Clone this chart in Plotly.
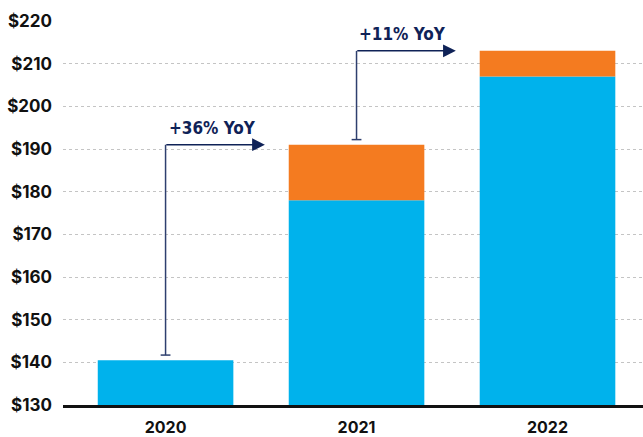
import plotly.graph_objects as go

years = ["2020", "2021", "2022"]
base_values = [140.5, 178, 207]
top_values = [0, 13, 6]
yoy_labels = ["+36% YoY", "+11% YoY"]
y_ticks = [130, 140, 150, 160, 170, 180, 190, 200, 210, 220]
y_tick_text = ["$" + str(v) for v in y_ticks]

BLUE = "#00B2EC"
ORANGE = "#F47B20"
NAVY = "#0F2257"

x_idx = list(range(len(years)))
totals = [b + t for b, t in zip(base_values, top_values)]

fig = go.Figure()
fig.add_trace(go.Bar(x=x_idx, y=base_values, base=0, marker_color=BLUE, marker_line_width=0,
                     showlegend=False, hoverinfo="skip"))
fig.add_trace(go.Bar(x=x_idx, y=top_values, base=base_values, marker_color=ORANGE, marker_line_width=0,
                     showlegend=False, hoverinfo="skip"))

for i, label in enumerate(yoy_labels):
    y0 = totals[i] + 1.2
    y1 = totals[i + 1]
    fig.add_trace(go.Scatter(x=[i, i], y=[y0, y1], mode="lines",
                             line=dict(color="#2E3F6E", width=1.5), showlegend=False, hoverinfo="skip"))
    fig.add_trace(go.Scatter(x=[i], y=[y0], mode="markers",
                             marker=dict(symbol="line-ew", size=7, line=dict(color="#2E3F6E", width=1.5)),
                             showlegend=False, hoverinfo="skip"))
    fig.add_annotation(x=i + 0.52, y=y1, ax=i - 0.004, ay=y1, xref="x", yref="y", axref="x", ayref="y",
                       showarrow=True, arrowhead=2, arrowsize=1.7, arrowwidth=1.5, arrowcolor=NAVY, text="")
    fig.add_annotation(x=i + 0.005, y=y1, xref="x", yref="y", text="<b>" + label + "</b>", showarrow=False,
                       xanchor="left", yanchor="bottom", yshift=5,
                       font=dict(family="DejaVu Sans Condensed, Liberation Sans Narrow, sans-serif",
                                 size=17, color=NAVY))

fig.update_layout(
    width=643, height=437,
    margin=dict(l=63, r=0, t=21, b=29),
    plot_bgcolor="white", paper_bgcolor="white",
    barmode="overlay", bargap=0.29,
    font=dict(family="Inter, Roboto, sans-serif", color="#111111"),
)
fig.update_xaxes(range=[-0.537, 2.5], tickvals=x_idx, ticktext=["<b>" + y + "</b>" for y in years],
                 tickfont=dict(size=16), showgrid=False, showline=True, linecolor="#111111", linewidth=2.5,
                 ticks="", zeroline=False, fixedrange=True, ticklabelstandoff=6)
fig.update_yaxes(range=[130, 220], tickvals=y_ticks, ticktext=["<b>" + t + "</b>" for t in y_tick_text],
                 tickfont=dict(size=17), showgrid=True, gridcolor="#c4c4c4", griddash="dot", gridwidth=1,
                 zeroline=False, showline=False, ticks="", ticklabelstandoff=10, fixedrange=True)

fig.write_html("out.html", config={"displayModeBar": False},
               post_script="document.body.style.margin='0';")
